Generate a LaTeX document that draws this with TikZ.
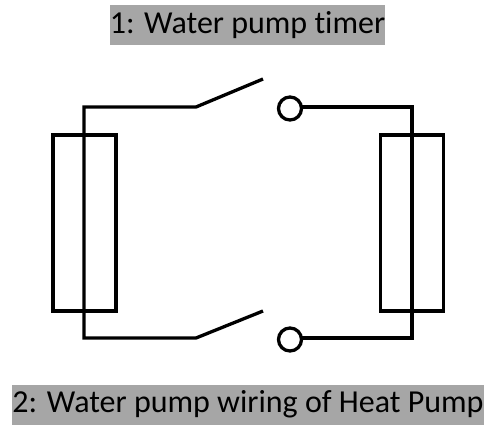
\documentclass[tikz,border=0pt]{standalone}
\usepackage{fontspec}
\setmainfont{Carlito}[Ligatures=NoCommon]
\begin{document}
\begin{tikzpicture}[x=1pt,y=-1pt,
  wire/.style={line width=3.3pt,line join=miter},
  coil/.style={draw,line width=3.3pt,minimum width=63pt,minimum height=176pt,inner sep=0pt,outer sep=0pt},
  contact/.style={draw,circle,line width=3.3pt,minimum size=23pt,inner sep=0pt,outer sep=0pt},
  label/.style={fill=black!35,inner sep=0pt,minimum height=40pt,font=\fontsize{32}{38}\selectfont,anchor=center,text height=23pt,text depth=7pt}]
\useasboundingbox (0,0) rectangle (487,424);
\node[label,minimum width=275pt] (t1) at (247.5,25) {1: Water pump timer};
\node[label,minimum width=472pt] (t2) at (248,404.5) {2: Water pump wiring of Heat Pump};
\node[coil] (cl) at (84.5,223) {};
\node[coil] (cr) at (412,223) {};
\node[contact] (c1) at (290,108.5) {};
\node[contact] (c2) at (290,339.5) {};
\coordinate (tl) at (84,107);
\coordinate (bl) at (84,338);
\coordinate (tr) at (412,107);
\coordinate (br) at (412,338);
\coordinate (s1) at (196,107);
\coordinate (s1e) at (263,79);
\coordinate (s2) at (196,338);
\coordinate (s2e) at (263,311);
\draw[wire] (s1e) -- (s1) -- (tl) -- (bl) -- (s2) -- (s2e);
\draw[wire] (c1.east |- tr) -- (tr) -- (br) -- (c2.east |- br);
\end{tikzpicture}
\end{document}
